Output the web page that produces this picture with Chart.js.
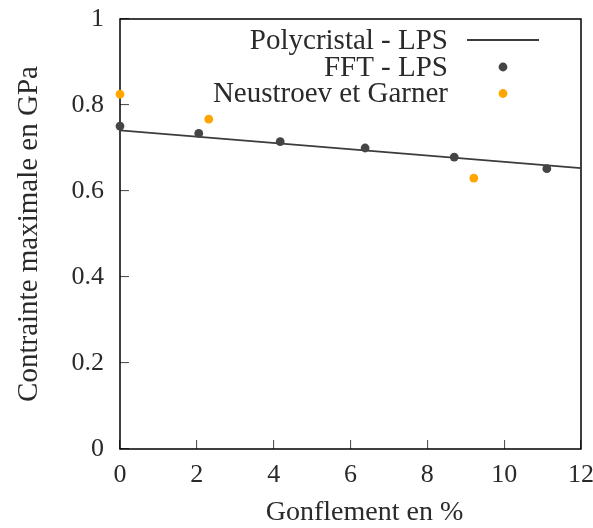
<!DOCTYPE html>
<html>
<head>
<meta charset="utf-8">
<script src="https://cdn.jsdelivr.net/npm/chart.js@4/dist/chart.umd.min.js"></script>
<style>
  html, body { margin: 0; padding: 0; background: #fff; }
  #wrap { width: 593px; height: 528px; }
</style>
</head>
<body>
<div id="wrap"><canvas id="c" width="593" height="528"></canvas></div>
<script>
// ---- data ----
const fitX = [0, 12];
const fitY = [0.741, 0.653];
const fftX = [0, 2.05, 4.17, 6.38, 8.70, 11.11];
const fftY = [0.751, 0.734, 0.715, 0.700, 0.679, 0.652];
const ngX = [0, 2.31, 9.21];
const ngY = [0.825, 0.767, 0.630];
const xTickLabels = ['0', '2', '4', '6', '8', '10', '12'];
const yTickLabels = ['0', '0.2', '0.4', '0.6', '0.8', '1'];
const seriesNames = ['Polycristal - LPS', 'FFT - LPS', 'Neustroev et Garner'];
const xTitle = 'Gonflement en %';
const yTitle = 'Contrainte maximale en GPa';

const SERIF = '"Liberation Serif", "DejaVu Serif", serif';
const TXT = '#2a2a2a';
const DARK = '#454545';
const ORANGE = '#ffa500';

const pts = (xs, ys) => xs.map((x, i) => ({ x: x, y: ys[i] }));

const frameAndLegend = {
  id: 'frameAndLegend',
  beforeDatasetsDraw(chart) {
    const { ctx, chartArea: a } = chart;
    ctx.save();
    ctx.strokeStyle = '#000';
    ctx.lineWidth = 1.5;
    ctx.strokeRect(a.left, a.top, a.right - a.left, a.bottom - a.top);
    ctx.restore();
  },
  afterDraw(chart) {
    const { ctx, chartArea: a } = chart;
    const ds = chart.data.datasets;
    ctx.save();
    ctx.font = '29px ' + SERIF;
    ctx.fillStyle = TXT;
    ctx.textAlign = 'right';
    ctx.textBaseline = 'middle';
    const textRight = a.right - 133;
    const rows = [a.top + 21, a.top + 48, a.top + 74.5];
    ds.forEach((d, i) => {
      const y = rows[i];
      ctx.fillText(d.label, textRight, y + 1);
      if (d.showLine) {
        ctx.strokeStyle = d.borderColor;
        ctx.lineWidth = d.borderWidth;
        ctx.beginPath();
        ctx.moveTo(a.right - 114, y);
        ctx.lineTo(a.right - 42, y);
        ctx.stroke();
      } else {
        ctx.fillStyle = d.backgroundColor;
        ctx.beginPath();
        ctx.arc(a.right - 78, y, d.pointRadius, 0, Math.PI * 2);
        ctx.fill();
        ctx.fillStyle = TXT;
      }
    });
    ctx.restore();
  }
};

new Chart(document.getElementById('c'), {
  type: 'scatter',
  data: {
    datasets: [
      {
        label: seriesNames[0],
        data: pts(fitX, fitY),
        showLine: true,
        borderColor: '#3c3c3c',
        borderWidth: 1.8,
        pointRadius: 0,
        fill: false,
        clip: false,
        order: 3
      },
      {
        label: seriesNames[1],
        data: pts(fftX, fftY),
        showLine: false,
        backgroundColor: DARK,
        borderColor: DARK,
        borderWidth: 0,
        pointRadius: 4.4,
        clip: false,
        order: 2
      },
      {
        label: seriesNames[2],
        data: pts(ngX, ngY),
        showLine: false,
        backgroundColor: ORANGE,
        borderColor: ORANGE,
        borderWidth: 0,
        pointRadius: 4.4,
        clip: false,
        order: 1
      }
    ]
  },
  options: {
    responsive: false,
    animation: false,
    devicePixelRatio: 1,
    layout: { padding: { top: 19, right: 12, left: 0, bottom: 0 } },
    plugins: {
      legend: { display: false },
      tooltip: { enabled: false }
    },
    scales: {
      x: {
        type: 'linear',
        min: 0, max: 12,
        ticks: {
          stepSize: 2,
          padding: 20,
          color: TXT,
          font: { family: SERIF, size: 26 },
          callback: (v) => xTickLabels[Math.round(v / 2)] ?? ''
        },
        grid: {
          drawOnChartArea: false,
          drawTicks: true,
          tickLength: -9,
          color: '#555',
          lineWidth: 1.1
        },
        border: { display: false },
        title: {
          display: true,
          text: '    ' + xTitle,
          color: TXT,
          font: { family: SERIF, size: 28, lineHeight: 1 },
          padding: { top: 0, bottom: 1 }
        },
        afterFit(s) { s.height = 79; s.paddingLeft = 0; s.paddingRight = 0; }
      },
      y: {
        type: 'linear',
        min: 0, max: 1,
        ticks: {
          stepSize: 0.2,
          padding: 25,
          color: TXT,
          font: { family: SERIF, size: 26 },
          callback: (v) => yTickLabels[Math.round(v / 0.2)] ?? ''
        },
        grid: {
          drawOnChartArea: false,
          drawTicks: true,
          tickLength: -9,
          color: '#555',
          lineWidth: 1.1
        },
        border: { display: false },
        title: {
          display: true,
          text: yTitle,
          color: TXT,
          font: { family: SERIF, size: 29, lineHeight: 1 },
          padding: { top: 15, bottom: 0 }
        },
        afterFit(s) { s.width = 120; s.paddingTop = 0; s.paddingBottom = 0; }
      }
    }
  },
  plugins: [frameAndLegend]
});
</script>
</body>
</html>
